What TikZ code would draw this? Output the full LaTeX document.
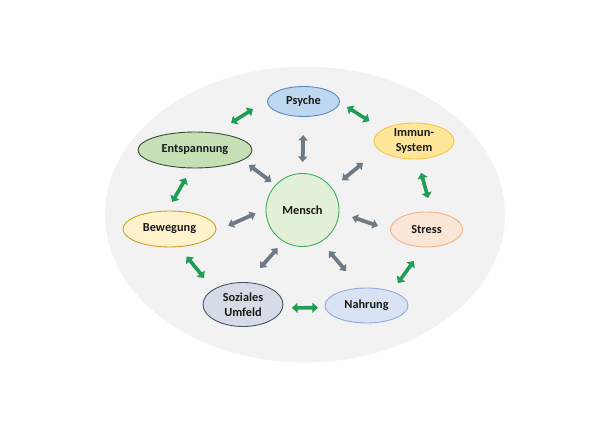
\documentclass[tikz,border=0pt]{standalone}
\usepackage{fontspec}
\setmainfont{Carlito}
\usetikzlibrary{shapes.geometric,arrows.meta}
\definecolor{bgc}{HTML}{F2F2F2}
\definecolor{greenar}{HTML}{1F9D55}
\definecolor{grayar}{HTML}{6E7B87}
\definecolor{psyF}{HTML}{BDD7EE}\definecolor{psyD}{HTML}{5A8AC6}
\definecolor{immF}{HTML}{FFE699}\definecolor{immD}{HTML}{F2C744}
\definecolor{entF}{HTML}{C5E0B4}\definecolor{entD}{HTML}{3A4A35}
\definecolor{menF}{HTML}{E2F0D9}\definecolor{menD}{HTML}{3FAE5A}
\definecolor{bewF}{HTML}{FFF2CC}\definecolor{bewD}{HTML}{C9A227}
\definecolor{strF}{HTML}{FBE5D6}\definecolor{strD}{HTML}{F4B183}
\definecolor{sozF}{HTML}{D6DCE5}\definecolor{sozD}{HTML}{44546A}
\definecolor{nahF}{HTML}{DAE3F3}\definecolor{nahD}{HTML}{8FAADC}
\tikzset{
  blob/.style={ellipse, inner sep=-8pt, outer sep=0pt, line width=0.9pt,
    font=\fontsize{12.3}{14.5}\selectfont\bfseries, text=black!90, align=center},
  garrow/.style={draw=greenar, line width=3.6pt,
    {Triangle[width=10pt,length=5.5pt]}-{Triangle[width=10pt,length=5.5pt]}},
  gyarrow/.style={draw=grayar, line width=3.8pt,
    {Triangle[width=9pt,length=5.5pt]}-{Triangle[width=9pt,length=5.5pt]}},
}
\begin{document}
\begin{tikzpicture}[x=1pt,y=-1pt]
\useasboundingbox (0,0) rectangle (608,430);
\fill[bgc] (305,214.5) ellipse [x radius=200, y radius=148];

\node[blob, fill=psyF, draw=psyD, minimum width=72pt, minimum height=30pt] (psy) at (303.5,101.5) {Psyche};
\node[blob, fill=immF, draw=immD, minimum width=80pt, minimum height=36pt] (imm) at (414,141) {Immun-\\System};
\node[blob, fill=entF, draw=entD, minimum width=114pt, minimum height=36pt] (ent) at (195,150) {Entspannung};
\node[blob, circle, fill=menF, draw=menD, minimum size=73pt] (men) at (302.5,210) {Mensch};
\node[blob, fill=bewF, draw=bewD, minimum width=93pt, minimum height=36pt] (bew) at (169.5,229) {Bewegung};
\node[blob, fill=strF, draw=strD, minimum width=72pt, minimum height=35pt] (str) at (426.5,229.5) {Stress};
\node[blob, fill=sozF, draw=sozD, minimum width=80pt, minimum height=44pt] (soz) at (243,304.5) {Soziales\\Umfeld};
\node[blob, fill=nahF, draw=nahD, minimum width=83pt, minimum height=35pt] (nah) at (366.5,305.5) {Nahrung};

% green ring arrows
\draw[garrow, shorten <=19pt, shorten >=17.5pt] (ent.40) -- (psy.177);
\draw[garrow, shorten <=9pt, shorten >=16pt] (psy.-1) -- (imm.160);
\draw[garrow, shorten <=14.5pt, shorten >=14.7pt] (imm.280) -- (str.72);
\draw[garrow, shorten <=17.3pt, shorten >=10.6pt] (str.262.5) -- (nah.29);
\draw[garrow, shorten <=7.4pt, shorten >=9.5pt] (nah.183.5) -- (soz.-5);
\draw[garrow, shorten <=15pt, shorten >=12.7pt] (soz.153.4) -- (bew.297.7);
\draw[garrow, shorten <=10.5pt, shorten >=11.6pt] (bew.98.9) -- (ent.260);

% gray spokes
\draw[gyarrow, shorten <=18.5pt, shorten >=11.5pt] (psy.270) -- (men.90);
\draw[gyarrow, shorten <=20.8pt, shorten >=13pt] (imm.194.3) -- (men.36.6);
\draw[gyarrow, shorten <=13.2pt, shorten >=14pt] (str.181) -- (men.356);
\draw[gyarrow, shorten <=22.5pt, shorten >=12.5pt] (nah.108.8) -- (men.300);
\draw[gyarrow, shorten <=19.5pt, shorten >=9pt] (soz.79.7) -- (men.239.4);
\draw[gyarrow, shorten <=13.8pt, shorten >=11.5pt] (bew.357) -- (men.178.7);
\draw[gyarrow, shorten <=8.3pt, shorten >=5.6pt] (ent.348) -- (men.137.7);
\end{tikzpicture}
\end{document}
